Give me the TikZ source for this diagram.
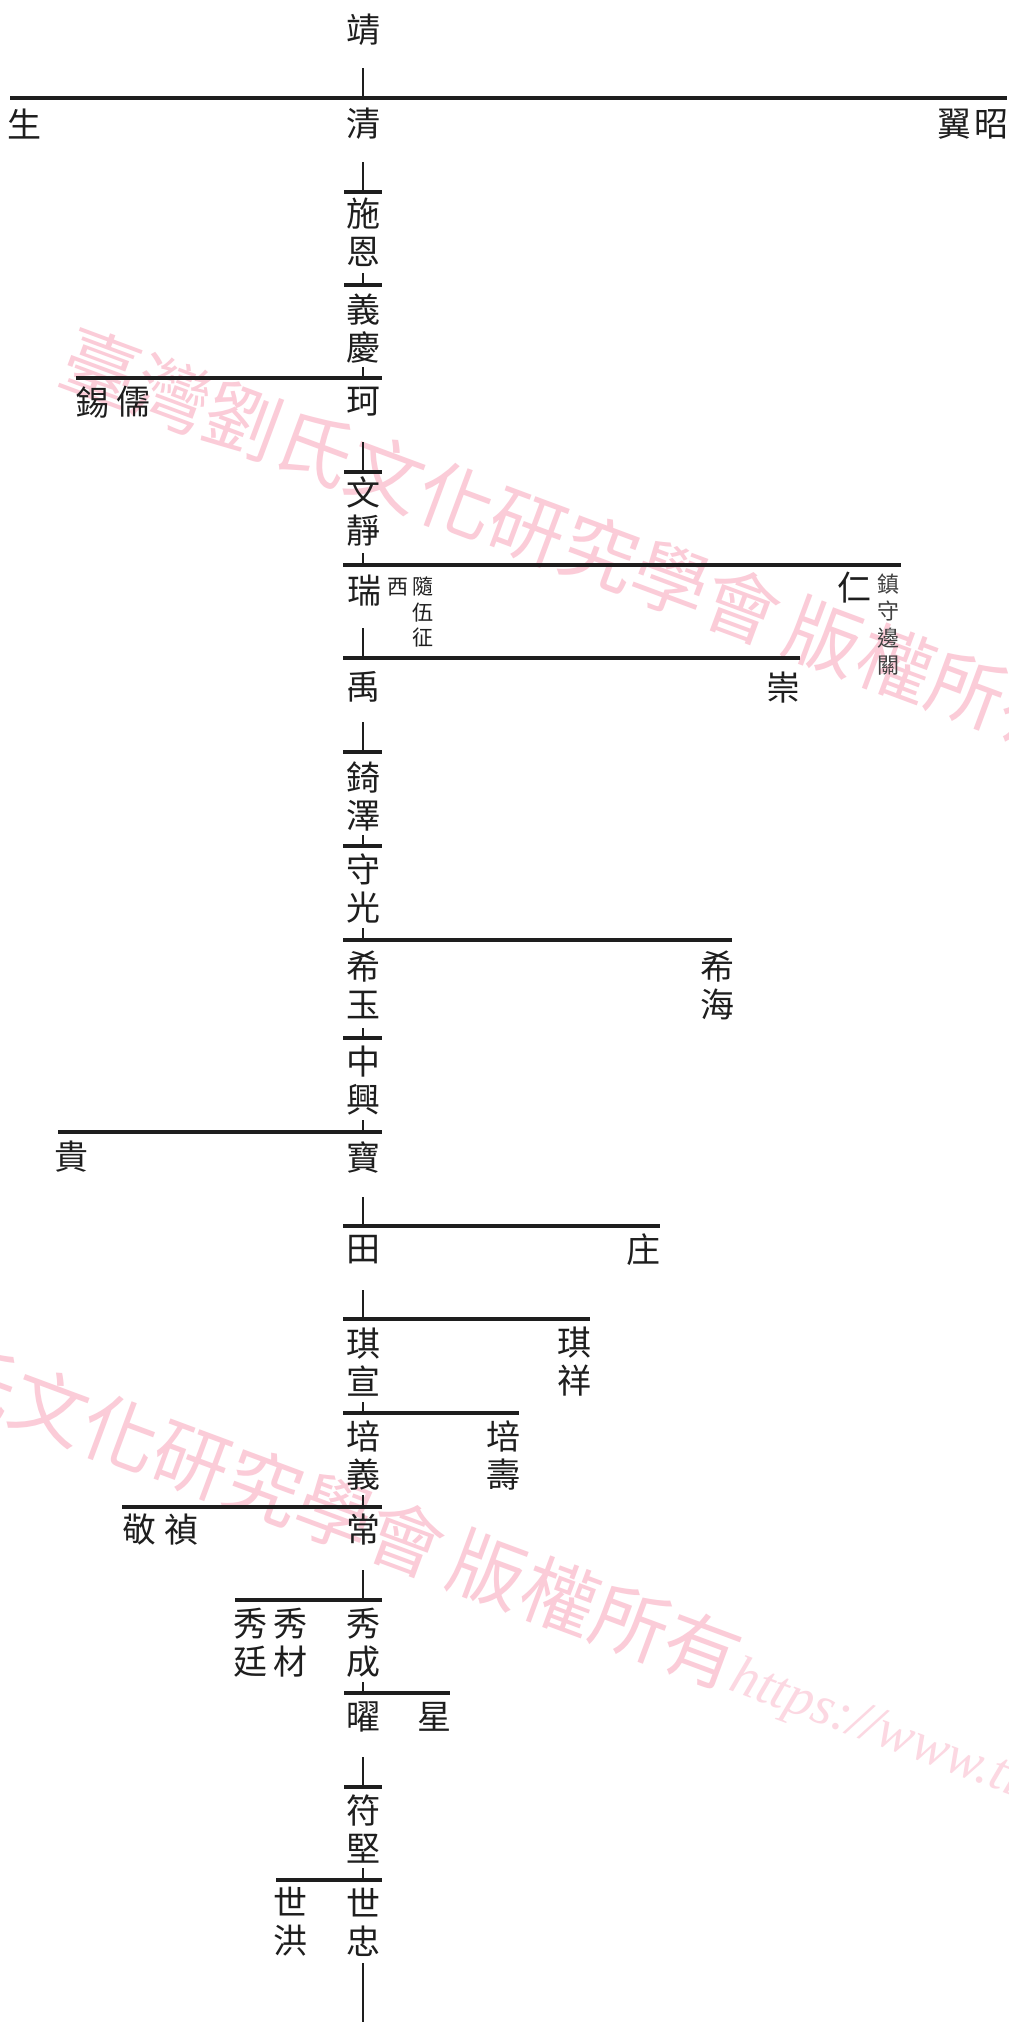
\documentclass[tikz,border=0pt]{standalone}
\usepackage{fontspec}
\newfontfamily\cjk{Noto Sans CJK TC}
\newfontfamily\wmurl{Liberation Serif}
\definecolor{ink}{RGB}{30,30,30}
\definecolor{wmpink}{RGB}{251,204,216}
\definecolor{wmurlc}{RGB}{252,216,226}
\tikzset{
  nm/.style={font=\cjk\fontsize{34}{38}\selectfont, inner sep=0pt, align=center, text=ink},
  sm/.style={font=\cjk\fontsize{21}{25.5}\selectfont, inner sep=0pt, align=center, text=ink},
  smb/.style={font=\cjk\fontsize{22}{27}\selectfont, inner sep=0pt, align=center, text=ink!85},
  hbar/.style={line width=3.5pt, draw=ink},
  vtick/.style={line width=2.4pt, draw=ink},
  wm/.style={font=\cjk\fontsize{76}{76}\selectfont, inner sep=0pt, text=wmpink, rotate=-20.4, anchor=west}
}
\newcommand{\wmtext}{臺灣劉氏文化研究學會\hspace{12pt}版權所有{\wmurl\itshape\fontsize{55}{55}\selectfont\color{wmurlc}https://www.tl}}
\begin{document}
\begin{tikzpicture}[x=1pt,y=-1pt]
\useasboundingbox (0,0) rectangle (1009,2022);
\fill[white] (0,0) rectangle (1009,2022);
\clip (0,0) rectangle (1009,2022);
% watermark
\node[wm] (wma) at (64.4,356.8) {\wmtext};
\node[wm] (wmb) at (-271.6,1289.8) {\wmtext};
% vertical ticks
\foreach \a/\b in {68/98,162/192,273/285,367/378,442/472,553/565,628/658,722/752,835/846,928/940,1028/1038,1120/1132,1197/1226,1290/1319,1402/1413,1495/1507,1570/1600,1682/1693,1757/1787,1868/1880,1963/2030}
  \draw[vtick] (363,\a) -- (363,\b);
% horizontal bars
\foreach \y/\l/\r in {98/10/1007,192/344/382,285/344/382,378/76/382,472/344/382,565/343/901,658/343/800,752/343/382,846/343/382,940/343/732,1038/343/382,1132/58/382,1226/343/660,1319/343/590,1413/343/519,1507/122/382,1600/235/382,1693/344/450,1787/344/382,1880/276/382}
  \draw[hbar] (\l,\y) -- (\r,\y);
% names
\node[nm] (jing) at (363,30) {靖};
\node[nm] (sheng) at (24,124) {生};
\node[nm] (qing) at (363,124) {清};
\node[nm] (yi1) at (954,124) {翼};
\node[nm] (zhao) at (991,124) {昭};
\node[nm] (shien) at (363,232) {施\\恩};
\node[nm] (yiqing) at (363,329) {義\\慶};
\node[nm] (xi) at (92,402) {錫};
\node[nm] (ru) at (133,402) {儒};
\node[nm] (ke) at (363,402) {珂};
\node[nm] (wenjing) at (363,512) {文\\靜};
\node[nm] (rui) at (364,591) {瑞};
\node[sm] (xi2) at (398,587) {西};
\node[sm] (suiwu) at (423,612) {隨\\伍\\征};
\node[nm] (ren) at (854,588) {仁};
\node[smb] (zhen) at (888,625) {鎮\\守\\邊\\關};
\node[nm] (yu) at (363,687) {禹};
\node[nm] (chong) at (783,688) {崇};
\node[nm] (qize) at (363,796) {錡\\澤};
\node[nm] (shouguang) at (363,888) {守\\光};
\node[nm] (xiyu) at (363,985) {希\\玉};
\node[nm] (xihai) at (717,985) {希\\海};
\node[nm] (zhongxing) at (363,1081) {中\\興};
\node[nm] (gui) at (71,1157) {貴};
\node[nm] (bao) at (363,1157) {寶};
\node[nm] (tian) at (363,1250) {田};
\node[nm] (zhuang) at (643,1250) {庄};
\node[nm] (qixuan) at (363,1362) {琪\\宣};
\node[nm] (qixiang) at (574,1362) {琪\\祥};
\node[nm] (peiyi) at (363,1455) {培\\義};
\node[nm] (peishou) at (503,1455) {培\\壽};
\node[nm] (jing2) at (139,1530) {敬};
\node[nm] (zhen2) at (181,1530) {禎};
\node[nm] (chang) at (363,1530) {常};
\node[nm] (xiuting) at (250,1643) {秀\\廷};
\node[nm] (xiucai) at (290,1643) {秀\\材};
\node[nm] (xiucheng) at (363,1643) {秀\\成};
\node[nm] (yao) at (363,1717) {曜};
\node[nm] (xing) at (434,1717) {星};
\node[nm] (fujian) at (363,1829) {符\\堅};
\node[nm] (shihong) at (290,1922) {世\\洪};
\node[nm] (shizhong) at (363,1922) {世\\忠};
\end{tikzpicture}
\end{document}
